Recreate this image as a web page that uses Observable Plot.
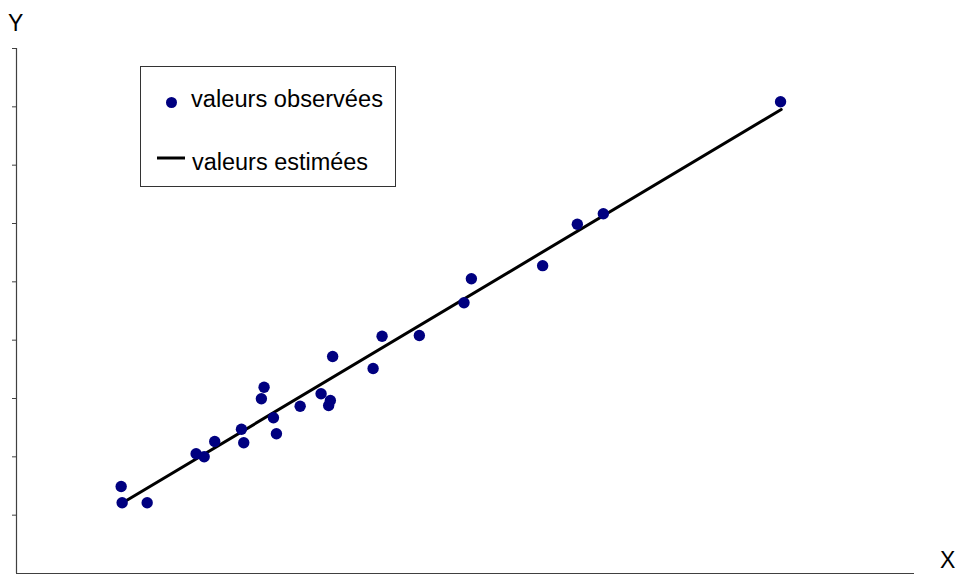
<!DOCTYPE html>
<html>
<head>
<meta charset="utf-8">
<script src="https://cdn.jsdelivr.net/npm/d3@7"></script>
<script src="https://cdn.jsdelivr.net/npm/@observablehq/plot@0.6"></script>
<style>
  html, body { margin: 0; padding: 0; background: #fff; }
  #wrap { position: relative; width: 960px; height: 574px; font-family: "Liberation Sans", Arial, sans-serif; }
  #wrap svg { position: absolute; left: 0; top: 0; overflow: visible; }
  .lbl { position: absolute; font-size: 23px; color: #000; line-height: 1; }
  #legend { position: absolute; left: 140px; top: 66px; width: 254px; height: 119px; border: 1px solid #333; background: #fff; }
</style>
</head>
<body>
<div id="wrap"></div>
<script>
// observed values
const obsX = [1.050, 1.060, 1.311, 1.802, 1.883, 1.989, 2.257, 2.280, 2.457, 2.484, 2.578, 2.608, 2.846,
              3.056, 3.149, 3.132, 3.172, 3.578, 3.668, 4.042, 4.490, 4.564, 5.279, 5.627, 5.888, 7.666];
const obsY = [1.491, 1.212, 1.212, 2.052, 2.001, 2.263, 2.474, 2.241, 2.995, 3.194, 2.669, 2.395, 2.868,
              3.081, 2.966, 2.880, 3.720, 3.514, 4.068, 4.080, 4.641, 5.052, 5.277, 5.988, 6.167, 8.087];
// estimated (fitted line) values at the extreme observations
const estX = [1.053, 7.673];
const estY = [1.200, 7.955];
// axis tick positions (no labels)
const xTicks = [1, 2, 3, 4, 5, 6, 7, 8, 9];
const yTicks = [1, 2, 3, 4, 5, 6, 7, 8, 9];
const seriesLabels = ["valeurs observées", "valeurs estimées"];
const axisLabels = ["X", "Y"];

const observed = obsX.map((x, i) => ({x, y: obsY[i]}));
const estimated = estX.map((x, i) => ({x, y: estY[i]}));

const axisColor = "#404040";
const chart = Plot.plot({
  width: 960,
  height: 574,
  marginLeft: 16,
  marginRight: 47,
  marginTop: 48,
  marginBottom: 1,
  x: {domain: [0, 9]},
  y: {domain: [0, 9]},
  style: {background: "transparent"},
  marks: [
    Plot.axisX({ticks: xTicks, tickSize: 5, tickFormat: () => "", stroke: axisColor, label: null}),
    Plot.axisY({ticks: yTicks, tickSize: 4, tickFormat: () => "", stroke: axisColor, label: null}),
    Plot.ruleX([0], {stroke: axisColor, strokeWidth: 1.2}),
    Plot.ruleY([0], {stroke: axisColor, strokeWidth: 1.2}),
    Plot.line(estimated, {x: "x", y: "y", stroke: "#000", strokeWidth: 3}),
    Plot.dot(observed, {x: "x", y: "y", r: 5.7, fill: "#000080", stroke: "none"})
  ]
});
const wrap = document.getElementById("wrap");
wrap.appendChild(chart);

const yl = document.createElement("div");
yl.className = "lbl"; yl.textContent = axisLabels[1];
yl.style.left = "8px"; yl.style.top = "12px";
wrap.appendChild(yl);
const xl = document.createElement("div");
xl.className = "lbl"; xl.textContent = axisLabels[0];
xl.style.left = "940px"; xl.style.top = "549px";
wrap.appendChild(xl);

// legend
const leg = document.createElement("div");
leg.id = "legend";
leg.innerHTML = `
<svg width="254" height="119" style="position:absolute;left:0;top:0">
  <circle cx="30.5" cy="35.5" r="5.5" fill="#000080"></circle>
  <line x1="16" x2="44" y1="91" y2="91" stroke="#000" stroke-width="3"></line>
  <text x="50" y="40" font-size="23" font-family="Liberation Sans, Arial, sans-serif" textLength="192" lengthAdjust="spacingAndGlyphs">${seriesLabels[0]}</text>
  <text x="51" y="103" font-size="23" font-family="Liberation Sans, Arial, sans-serif" textLength="176" lengthAdjust="spacingAndGlyphs">${seriesLabels[1]}</text>
</svg>`;
wrap.appendChild(leg);
</script>
</body>
</html>
